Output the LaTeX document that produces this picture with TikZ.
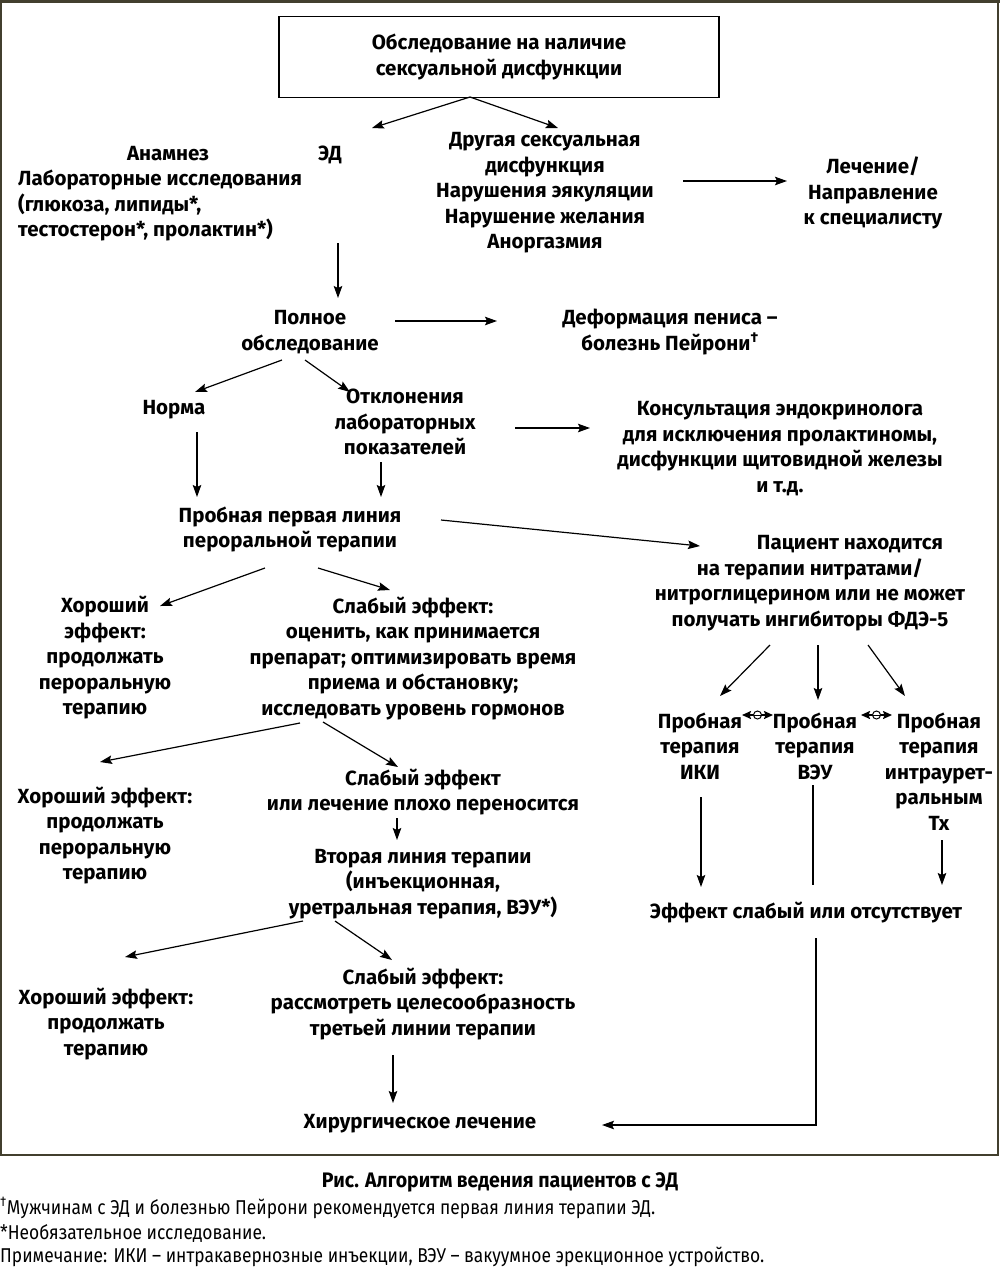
\documentclass[tikz,border=0pt]{standalone}
\usepackage{fontspec}
\setmainfont{Fira Sans}
\newfontfamily\capfont{Fira Sans}[FakeStretch=0.93]
\newfontfamily\notefont{Fira Sans}[FakeStretch=0.87]
\usetikzlibrary{arrows.meta,calc}
\tikzset{
  txt/.style={font=\fontsize{20.5}{25.5}\selectfont\bfseries, align=center, inner sep=0pt, text=black},
  arr/.style={line width=1.2pt, -{Stealth[length=12pt,width=8.5pt,inset=2pt]}},
  plain/.style={line width=1.2pt},
  dbl/.style={line width=1.6pt, {Stealth[length=9pt,width=8pt,inset=1.5pt]}-{Stealth[length=9pt,width=8pt,inset=1.5pt]}},
  note/.style={font=\notefont\fontsize{20}{24}\selectfont, inner sep=0pt, anchor=west},
  framecol/.style={draw=black!70!olive}
}
\begin{document}
\begin{tikzpicture}[x=1pt,y=-1pt]
\useasboundingbox (0,0) rectangle (1000,1270);
% outer frame
\draw[framecol, line width=1.5pt] (1,1) -- (1,1155) -- (998,1155) -- (998,1);
\draw[framecol, line width=3pt] (0,1.5) -- (1000,1.5);

% nodes
\node[txt, draw, line width=1.2pt, minimum width=440pt, minimum height=81pt] (top) at (499,57) {Обследование на наличие\\сексуальной дисфункции};
\node[txt] (ed) at (330,155) {ЭД};
\node[font=\fontsize{20.5}{25.5}\selectfont\bfseries, inner sep=0pt, anchor=west] (anam) at (18,193.5)
  {\begin{tabular}{@{}l@{}}\multicolumn{1}{@{}c@{}}{\hspace*{16pt}Анамнез}\\Лабораторные исследования\\(глюкоза, липиды*,\\тестостерон*, пролактин*)\end{tabular}};
\node[txt] (other) at (545,193) {Другая сексуальная\\дисфункция\\Нарушения эякуляции\\Нарушение желания\\Аноргазмия};
\node[txt] (treat) at (873,193) {Лечение/\\Направление\\к специалисту};
\node[txt] (full) at (310,332) {Полное\\обследование};
\node[txt] (peyr) at (670,332) {Деформация пениса –\\болезнь Пейрони\textsuperscript{†}};
\node[txt] (norma) at (174,410) {Норма};
\node[txt] (dev) at (405,422) {Отклонения\\лабораторных\\показателей};
\node[txt] (endo) at (780,448.5) {Консультация эндокринолога\\для исключения пролактиномы,\\дисфункции щитовидной железы\\и т.д.};
\node[txt] (first) at (290,529.5) {Пробная первая линия\\пероральной терапии};
\node[txt] (nitr) at (810,583) {\hspace*{80pt}Пациент находится\\на терапии нитратами/\\нитроглицерином или не может\\получать ингибиторы ФДЭ-5};
\node[txt] (good1) at (105,658) {Хороший\\эффект:\\продолжать\\пероральную\\терапию};
\node[txt] (weak1) at (413,658.5) {Слабый эффект:\\оценить, как принимается\\препарат; оптимизировать время\\приема и обстановку;\\исследовать уровень гормонов};
\node[txt] (iki) at (700,746) {Пробная\\терапия\\ИКИ};
\node[txt] (veu) at (815,746) {Пробная\\терапия\\ВЭУ};
\node[txt] (itx) at (939,771.5) {Пробная\\терапия\\интраурет-\\ральным\\Тх};
\node[txt] (good2) at (105,835.5) {Хороший эффект:\\продолжать\\пероральную\\терапию};
\node[txt] (weak2) at (423,792) {Слабый эффект\\или лечение плохо переносится};
\node[txt] (second) at (423,884) {Вторая линия терапии\\(инъекционная,\\уретральная терапия, ВЭУ*)};
\node[txt] (eff) at (806,913) {Эффект слабый или отсутствует};
\node[txt] (good3) at (106,1024) {Хороший эффект:\\продолжать\\терапию};
\node[txt] (weak3) at (423,1004) {Слабый эффект:\\рассмотреть целесообразность\\третьей линии терапии};
\node[txt] (surg) at (420,1124) {Хирургическое лечение};

% caption and notes
\node[font=\capfont\bfseries\fontsize{21}{24}\selectfont, inner sep=0pt] (cap) at (500,1182) {Рис. Алгоритм ведения пациентов с ЭД};
\node[note] (fn1) at (0,1208) {\textsuperscript{†}Мужчинам с ЭД и болезнью Пейрони рекомендуется первая линия терапии ЭД.};
\node[note] (fn2) at (0,1233) {*Необязательное исследование.};
\node[note] (fn3) at (0,1257) {Примечание: ИКИ – интракавернозные инъекции, ВЭУ – вакуумное эрекционное устройство.};

% connectors
\draw[arr] ([shift={(-29,40)}]top.center) -- ([shift={(42,-27)}]ed.center);
\draw[arr] ([shift={(-29,40)}]top.center) -- ([shift={(13,-65)}]other.center);
\draw[arr] ([shift={(138,-12)}]other.center) -- ([shift={(-86,-12)}]treat.center);
\draw[arr] ([shift={(8,88)}]ed.center) -- ([shift={(28,-34)}]full.center);
\draw[arr] ([shift={(85,-11)}]full.center) -- ([shift={(-173,-11)}]peyr.center);
\draw[arr] ([shift={(-28,28)}]full.center) -- ([shift={(21,-18)}]norma.center);
\draw[arr] ([shift={(-5,28)}]full.center) -- ([shift={(-55,-30)}]dev.center);
\draw[arr] ([shift={(110,6)}]dev.center) -- ([shift={(-190,-20.5)}]endo.center);
\draw[arr] ([shift={(23,22)}]norma.center) -- ([shift={(-93,-32.5)}]first.center);
\draw[arr] ([shift={(-24,40)}]dev.center) -- ([shift={(91,-32.5)}]first.center);
\draw[arr] ([shift={(151,-9.5)}]first.center) -- ([shift={(-110,-37)}]nitr.center);
\draw[arr] ([shift={(-25,38.5)}]first.center) -- ([shift={(55,-52)}]good1.center);
\draw[arr] ([shift={(28,38.5)}]first.center) -- ([shift={(-23,-68.5)}]weak1.center);
\draw[arr] ([shift={(-40,62)}]nitr.center) -- ([shift={(20,-50)}]iki.center);
\draw[arr] ([shift={(8,62)}]nitr.center) -- ([shift={(3,-46)}]veu.center);
\draw[arr] ([shift={(58,62)}]nitr.center) -- ([shift={(-34,-75.5)}]itx.center);
\draw[dbl] ([shift={(42,-31)}]iki.center) -- ([shift={(-42,-31)}]veu.center);
\draw[line width=1pt, fill=white] ($([shift={(42,-31)}]iki.center)!0.5!([shift={(-42,-31)}]veu.center)$) circle (4pt);
\draw[line width=1pt] ($([shift={(42,-31)}]iki.center)!0.5!([shift={(-42,-31)}]veu.center)$) +(-4,0) -- +(4,0);
\draw[dbl] ([shift={(46,-31)}]veu.center) -- ([shift={(-47,-56.5)}]itx.center);
\draw[line width=1pt, fill=white] ($([shift={(46,-31)}]veu.center)!0.5!([shift={(-47,-56.5)}]itx.center)$) circle (4pt);
\draw[line width=1pt] ($([shift={(46,-31)}]veu.center)!0.5!([shift={(-47,-56.5)}]itx.center)$) +(-4,0) -- +(4,0);
\draw[arr] ([shift={(1,51)}]iki.center) -- ([shift={(-105,-26)}]eff.center);
\draw[plain] ([shift={(-2,39)}]veu.center) -- ([shift={(7,-28)}]eff.center);
\draw[arr] ([shift={(3,68.5)}]itx.center) -- ([shift={(136,-28)}]eff.center);
\draw[arr] ([shift={(10,25)}]eff.center) |- ([shift={(182,1)}]surg.center);
\draw[arr] ([shift={(-113,64.5)}]weak1.center) -- ([shift={(-5,-73.5)}]good2.center);
\draw[arr] ([shift={(-90,63.5)}]weak1.center) -- ([shift={(-25,-25)}]weak2.center);
\draw[arr] ([shift={(-26,26)}]weak2.center) -- ([shift={(-26,-44)}]second.center);
\draw[arr] ([shift={(-120,37)}]second.center) -- ([shift={(19,-67)}]good3.center);
\draw[arr] ([shift={(-88,37)}]second.center) -- ([shift={(-31,-44)}]weak3.center);
\draw[arr] ([shift={(-30,51)}]weak3.center) -- ([shift={(-27,-21)}]surg.center);
\end{tikzpicture}
\end{document}
